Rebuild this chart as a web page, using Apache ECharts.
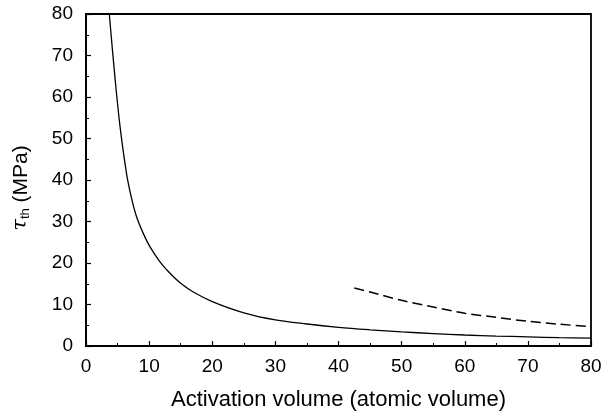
<!DOCTYPE html>
<html>
<head>
<meta charset="utf-8">
<script src="https://cdn.jsdelivr.net/npm/echarts@6/dist/echarts.min.js"></script>
<style>html,body{margin:0;padding:0;background:#fff}#c{width:612px;height:416px}</style>
</head>
<body>
<div id="c"></div>
<script>
// Solid curve
var solidV   = [3.69, 4.6, 5.4, 6.45, 7.2, 8.0, 9.05, 10.1, 11.6, 13, 15, 17, 20, 25, 30, 35, 40, 45, 50, 55, 60, 65, 70, 75, 80];
var solidTau = [80, 64.5, 52.8, 41.3, 35.7, 31.2, 27.2, 24.0, 20.5, 18.0, 15.1, 13.0, 10.7, 8.0, 6.3, 5.3, 4.5, 3.9, 3.4, 3.0, 2.65, 2.4, 2.2, 2.0, 1.9];
// Dashed curve
var dashV    = [42.5, 45, 50, 55, 60, 65, 70, 75, 80];
var dashTau  = [14.0, 13.0, 11.0, 9.4, 7.9, 6.9, 5.95, 5.25, 4.65];
var xTicks = [0, 10, 20, 30, 40, 50, 60, 70, 80];
var yTicks = [0, 10, 20, 30, 40, 50, 60, 70, 80];

function pairs(a, b) { return a.map(function (v, i) { return [v, b[i]]; }); }

var chart = echarts.init(document.getElementById('c'), null, {renderer: 'canvas'});
var font = 'Liberation Sans, Arial, Helvetica, sans-serif';
chart.setOption({
  animation: false,
  grid: {left: 86, right: 21, top: 14, bottom: 65.5, show: true, borderColor: '#000', borderWidth: 1.8, backgroundColor: 'transparent'},
  xAxis: {
    type: 'value', min: 0, max: 80, interval: 10,
    name: 'Activation volume (atomic volume)', nameLocation: 'middle', nameGap: 43,
    nameTextStyle: {color: '#000', fontSize: 22, fontFamily: font},
    axisLine: {show: true, lineStyle: {color: '#000', width: 1.8}},
    axisTick: {show: true, inside: true, length: 5, lineStyle: {color: '#000', width: 1.2}},
    minorTick: {show: true, splitNumber: 2, length: 3, lineStyle: {color: '#000', width: 1}},
    splitLine: {show: false},
    axisLabel: {color: '#000', fontSize: 19, fontFamily: font, margin: 11,
      formatter: function (v) { return xTicks.indexOf(v) >= 0 ? String(v) : ''; }}
  },
  yAxis: {
    type: 'value', min: 0, max: 80, interval: 10,
    name: '{t|τ}{s|th} (MPa)', nameLocation: 'middle', nameGap: 54, nameRotate: 90,
    nameTextStyle: {color: '#000', fontSize: 21, fontFamily: font, padding: [0, 16, 0, 0],
      rich: {t: {fontSize: 21, fontFamily: 'DejaVu Serif, serif', fontStyle: 'italic', color: '#000'},
             s: {fontSize: 13, fontFamily: font, color: '#000', verticalAlign: 'bottom', padding: [9, 0, 0, 0]}}},
    axisLine: {show: true, lineStyle: {color: '#000', width: 1.8}},
    axisTick: {show: true, inside: true, length: 5, lineStyle: {color: '#000', width: 1.2}},
    minorTick: {show: true, splitNumber: 2, length: 3, lineStyle: {color: '#000', width: 1}},
    splitLine: {show: false},
    axisLabel: {color: '#000', fontSize: 19, fontFamily: font, margin: 13,
      formatter: function (v) { return yTicks.indexOf(v) >= 0 ? String(v) : ''; }}
  },
  series: [
    {type: 'line', data: pairs(solidV, solidTau), smooth: 0.35, showSymbol: false,
     lineStyle: {color: '#000', width: 1.3}},
    {type: 'line', data: pairs(dashV, dashTau), smooth: 0.3, showSymbol: false,
     lineStyle: {color: '#000', width: 1.5, type: [10, 5]}}
  ]
});
</script>
</body>
</html>
